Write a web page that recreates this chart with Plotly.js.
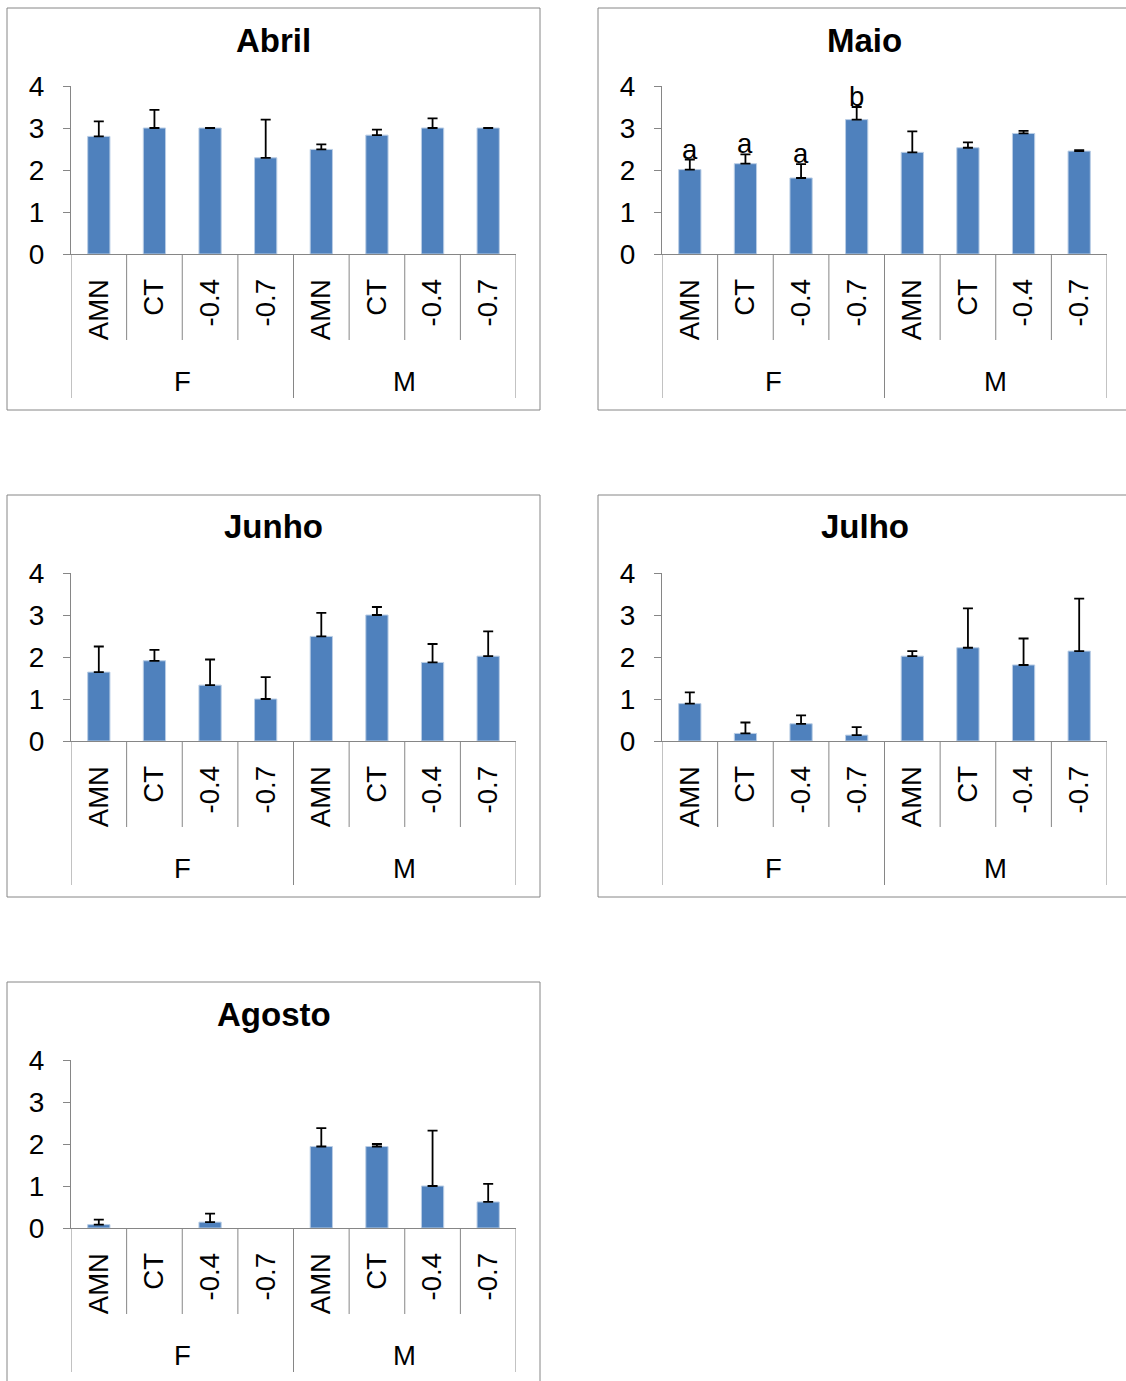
<!DOCTYPE html>
<html>
<head>
<meta charset="utf-8">
<script src="https://cdn.plot.ly/plotly-3.0.1.min.js"></script>
<style>html,body{margin:0;padding:0;background:#fff;}#chart{width:1126px;height:1381px;}</style>
</head>
<body>
<div id="chart"></div>
<script>
// ---------- data ----------
const sexes = ['F','F','F','F','M','M','M','M'];
const treatments = ['AMN','CT','-0.4','-0.7','AMN','CT','-0.4','-0.7'];
const months = ['Abril','Maio','Junho','Julho','Agosto'];

const abrilMean  = [2.80, 3.00, 3.00, 2.29, 2.49, 2.83, 3.00, 3.00];
const abrilErr   = [0.36, 0.43, 0.00, 0.91, 0.12, 0.13, 0.23, 0.00];
const maioMean   = [2.01, 2.15, 1.81, 3.20, 2.42, 2.53, 2.87, 2.45];
const maioErr    = [0.24, 0.22, 0.33, 0.30, 0.50, 0.13, 0.06, 0.02];
const maioLetters= ['a','a','a','b','','','',''];
const junhoMean  = [1.64, 1.91, 1.33, 1.00, 2.49, 3.00, 1.87, 2.02];
const junhoErr   = [0.61, 0.26, 0.61, 0.52, 0.56, 0.19, 0.44, 0.59];
const julhoMean  = [0.89, 0.18, 0.41, 0.14, 2.02, 2.22, 1.81, 2.14];
const julhoErr   = [0.27, 0.26, 0.20, 0.19, 0.12, 0.94, 0.63, 1.25];
const agostoMean = [0.08, 0.00, 0.14, 0.00, 1.94, 1.94, 1.00, 0.62];
const agostoErr  = [0.12, 0.00, 0.20, 0.00, 0.44, 0.06, 1.32, 0.43];
const yTicks = [0, 1, 2, 3, 4];

const means = [abrilMean, maioMean, junhoMean, julhoMean, agostoMean];
const errs  = [abrilErr, maioErr, junhoErr, julhoErr, agostoErr];
const letters = [null, maioLetters, null, null, null];

// ---------- layout geometry ----------
const W = 1126, H = 1381;
const panelOrigins = [[7,8],[598,8],[7,495],[598,495],[7,982]];
const FRAME_W = 533, FRAME_H = 402;
const PLOT_L = 64, PLOT_R = 509, PLOT_T = 78, PLOT_B = 246;
const px = v => v / W;
const py = v => 1 - v / H;

const FONT = 'Arial, "Liberation Sans", sans-serif';
const GRAY = '#868686';
const BLUE = '#4F81BD';

const idx = treatments.map((_, i) => i);
const groups = [...new Set(sexes)];

const data = [];
const layout = {
  width: W, height: H,
  margin: {l:0, r:0, t:0, b:0, pad:0},
  paper_bgcolor: '#fff', plot_bgcolor: '#fff',
  showlegend: false,
  bargap: 0.6,
  font: {family: FONT, color: '#000'},
  shapes: [], annotations: []
};

months.forEach((m, k) => {
  const n = k + 1;
  const xa = n === 1 ? 'x' : 'x' + n;
  const ya = n === 1 ? 'y' : 'y' + n;
  const [ox, oy] = panelOrigins[k];
  const mean = means[k];
  const err = errs[k];
  // zero-height bars draw nothing, so only non-zero values are passed on
  const keep = idx.filter(i => mean[i] !== 0);

  data.push({
    type: 'bar', x: keep, y: keep.map(i => mean[i]), xaxis: xa, yaxis: ya,
    width: 0.4,
    marker: {color: BLUE, line: {color: '#b9cde5', width: 1}},
    error_y: {type: 'data', symmetric: false, array: keep.map(i => err[i]),
              arrayminus: keep.map(() => 0), color: '#000', thickness: 1.8, width: 5},
    hoverinfo: 'skip'
  });

  layout['xaxis' + (n === 1 ? '' : n)] = {
    domain: [px(ox + PLOT_L), px(ox + PLOT_R)],
    range: [-0.5, treatments.length - 0.5],
    anchor: ya,
    tickvals: idx, ticktext: treatments, tickangle: -90,
    ticks: '', ticklabelstandoff: 13,
    tickfont: {family: FONT, size: 27.5, color: '#000'},
    showline: true, linecolor: GRAY, linewidth: 1,
    showgrid: false, zeroline: false, automargin: false, fixedrange: true
  };
  layout['yaxis' + (n === 1 ? '' : n)] = {
    domain: [py(oy + PLOT_B), py(oy + PLOT_T)],
    range: [0, 4],
    anchor: xa,
    tickvals: yTicks, ticktext: yTicks.map(String),
    ticks: 'outside', ticklen: 7, tickcolor: GRAY, tickwidth: 1,
    ticklabelstandoff: 13,
    tickfont: {family: FONT, size: 28, color: '#000'},
    showline: true, linecolor: GRAY, linewidth: 1,
    showgrid: false, zeroline: false, automargin: false, fixedrange: true
  };

  // frame
  layout.shapes.push({type: 'rect', xref: 'paper', yref: 'paper',
    x0: px(ox), x1: px(ox + FRAME_W), y0: py(oy + FRAME_H), y1: py(oy),
    line: {color: GRAY, width: 1}, fillcolor: 'rgba(0,0,0,0)', layer: 'below'});

  // category separators
  for (let b = 0; b <= treatments.length; b++) {
    const isGroup = b === 0 || b === treatments.length || sexes[b] !== sexes[b - 1];
    layout.shapes.push({type: 'line', xref: xa, yref: 'paper',
      x0: b - 0.5, x1: b - 0.5,
      y0: py(oy + PLOT_B), y1: py(oy + (isGroup ? 390 : 332)),
      line: {color: GRAY, width: 1}});
  }

  // group labels
  groups.forEach(g => {
    const members = idx.filter(i => sexes[i] === g);
    const center = members.reduce((a, b) => a + b, 0) / members.length;
    layout.annotations.push({xref: xa, yref: 'paper', x: center, y: py(oy + 373),
      text: g, showarrow: false, xanchor: 'center', yanchor: 'middle',
      font: {family: FONT, size: 27.5, color: '#000'}});
  });

  // title
  layout.annotations.push({xref: 'paper', yref: 'paper',
    x: px(ox + FRAME_W / 2), y: py(oy + 32),
    text: '<b>' + m + '</b>', showarrow: false, xanchor: 'center', yanchor: 'middle',
    font: {family: FONT, size: 33, color: '#000'}});

  // significance letters
  if (letters[k]) {
    letters[k].forEach((t, i) => {
      if (!t) return;
      layout.annotations.push({xref: xa, yref: ya, x: i, y: mean[i] + err[i],
        text: t, showarrow: false, xanchor: 'center', yanchor: 'bottom', yshift: -7,
        font: {family: FONT, size: 27.5, color: '#000'}});
    });
  }
});

Plotly.newPlot('chart', data, layout, {staticPlot: true, displayModeBar: false});
</script>
</body>
</html>
